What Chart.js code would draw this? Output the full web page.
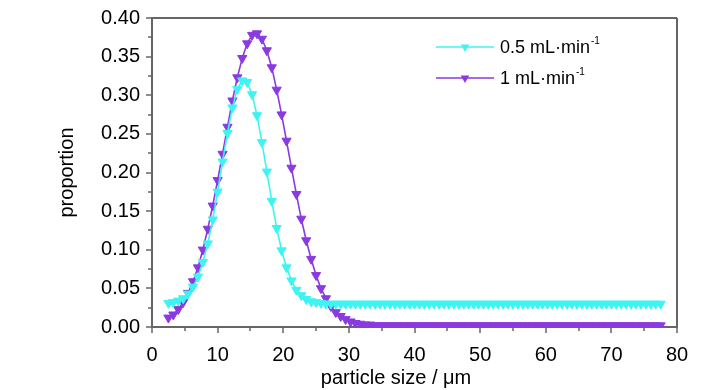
<!DOCTYPE html>
<html><head><meta charset="utf-8">
<script src="https://cdn.jsdelivr.net/npm/chart.js@4.4.1/dist/chart.umd.min.js"></script>
<style>html,body{margin:0;padding:0;background:#fff}#wrap{width:728px;height:390px}</style>
</head><body><div id="wrap"><canvas id="c" width="728" height="390"></canvas></div>
<script>
// particle size (µm)
const particleSize = [
 2.5,3.25,4,4.75,5.5,6.25,7,7.75,8.5,9.25,
 10,10.75,11.5,12.25,13,13.75,14.5,15.25,16,16.75,
 17.5,18.25,19,19.75,20.5,21.25,22,22.75,23.5,24.25,
 25,25.75,26.5,27.25,28,28.75,29.5,30.25,31,31.75,
 32.5,33.25,34,34.75,35.5,36.25,37,37.75,38.5,39.25,
 40,40.75,41.5,42.25,43,43.75,44.5,45.25,46,46.75,
 47.5,48.25,49,49.75,50.5,51.25,52,52.75,53.5,54.25,
 55,55.75,56.5,57.25,58,58.75,59.5,60.25,61,61.75,
 62.5,63.25,64,64.75,65.5,66.25,67,67.75,68.5,69.25,
 70,70.75,71.5,72.25,73,73.75,74.5,75.25,76,76.75,
 77.5
];
// 0.5 mL·min-1
const flow05 = [
 0.031,0.032,0.034,0.037,0.043,0.052,0.065,0.084,0.108,0.139,
 0.175,0.214,0.251,0.284,0.308,0.319,0.317,0.301,0.274,0.239,
 0.201,0.163,0.128,0.099,0.077,0.060,0.048,0.041,0.036,0.033,
 0.032,0.031,0.030,0.030,0.030,0.030,0.030,0.030,0.030,0.030,
 0.030,0.030,0.030,0.030,0.030,0.030,0.030,0.030,0.030,0.030,
 0.030,0.030,0.030,0.030,0.030,0.030,0.030,0.030,0.030,0.030,
 0.030,0.030,0.030,0.030,0.030,0.030,0.030,0.030,0.030,0.030,
 0.030,0.030,0.030,0.030,0.030,0.030,0.030,0.030,0.030,0.030,
 0.030,0.030,0.030,0.030,0.030,0.030,0.030,0.030,0.030,0.030,
 0.030,0.030,0.030,0.030,0.030,0.030,0.030,0.030,0.030,0.030,
 0.030
];
// 1 mL·min-1
const flow1 = [
 0.012,0.016,0.023,0.032,0.044,0.059,0.077,0.100,0.127,0.157,
 0.190,0.224,0.259,0.293,0.323,0.348,0.367,0.378,0.380,0.373,
 0.358,0.336,0.307,0.275,0.241,0.206,0.172,0.140,0.112,0.088,
 0.067,0.050,0.037,0.027,0.019,0.014,0.010,0.007,0.005,0.004,
 0.003,0.003,0.002,0.002,0.002,0.002,0.002,0.002,0.002,0.002,
 0.002,0.002,0.002,0.002,0.002,0.002,0.002,0.002,0.002,0.002,
 0.002,0.002,0.002,0.002,0.002,0.002,0.002,0.002,0.002,0.002,
 0.002,0.002,0.002,0.002,0.002,0.002,0.002,0.002,0.002,0.002,
 0.002,0.002,0.002,0.002,0.002,0.002,0.002,0.002,0.002,0.002,
 0.002,0.002,0.002,0.002,0.002,0.002,0.002,0.002,0.002,0.002,
 0.002
];
const seriesLabels = ['0.5 mL·min', '1 mL·min'];
const seriesSup = '-1';
const xMajorTicks = [0,10,20,30,40,50,60,70,80];
const xMinorTicks = [5,15,25,35,45,55,65,75];
const yMajorTicks = [0,0.05,0.10,0.15,0.20,0.25,0.30,0.35,0.40];
const yMinorTicks = [0.025,0.075,0.125,0.175,0.225,0.275,0.325,0.375];
const xTitle = 'particle size / μm';
const yTitle = 'proportion';

const FONT = '"Liberation Sans", Arial, sans-serif';
const CYAN = '#3ef4f2';
const PURPLE = '#8a3ae0';
const AXIS = '#666666';

const toPts = ys => particleSize.map((x, i) => ({x: x, y: ys[i]}));

const ticksPlugin = {
  id: 'ticksFrame',
  afterDraw(chart) {
    const ctx = chart.ctx, a = chart.chartArea;
    const xs = chart.scales.x, ys = chart.scales.y;
    ctx.save();
    ctx.strokeStyle = AXIS;
    ctx.lineWidth = 2;
    ctx.beginPath();
    ctx.moveTo(a.left, a.top); ctx.lineTo(a.right, a.top);
    ctx.moveTo(a.right, a.top); ctx.lineTo(a.right, a.bottom);
    ctx.stroke();
    ctx.lineWidth = 1.5;
    ctx.beginPath();
    xMajorTicks.forEach(v => { const p = Math.round(xs.getPixelForValue(v)); ctx.moveTo(p, a.bottom); ctx.lineTo(p, a.bottom + 6); });
    xMinorTicks.forEach(v => { const p = Math.round(xs.getPixelForValue(v)); ctx.moveTo(p, a.bottom); ctx.lineTo(p, a.bottom + 4); });
    yMajorTicks.forEach(v => { const p = Math.round(ys.getPixelForValue(v)); ctx.moveTo(a.left, p); ctx.lineTo(a.left - 6, p); });
    yMinorTicks.forEach(v => { const p = Math.round(ys.getPixelForValue(v)); ctx.moveTo(a.left, p); ctx.lineTo(a.left - 4, p); });
    ctx.stroke();
    // x axis title (slightly left of the plot centre, as in the original)
    ctx.fillStyle = '#000';
    ctx.font = '20px ' + FONT;
    ctx.textAlign = 'center'; ctx.textBaseline = 'middle';
    ctx.fillText(xTitle, 396, 378);
    ctx.restore();
  }
};

const legendPlugin = {
  id: 'inLegend',
  afterDraw(chart) {
    const ctx = chart.ctx;
    const items = [{c: CYAN, y: 47, t: seriesLabels[0]}, {c: PURPLE, y: 78, t: seriesLabels[1]}];
    ctx.save();
    items.forEach(it => {
      ctx.strokeStyle = it.c; ctx.lineWidth = 1.5;
      ctx.beginPath(); ctx.moveTo(436, it.y); ctx.lineTo(494, it.y); ctx.stroke();
      const r = 5, cx = 465, cy = it.y;
      ctx.fillStyle = it.c;
      ctx.beginPath();
      ctx.moveTo(cx, cy + r);
      ctx.lineTo(cx - r * 0.866, cy - r * 0.5);
      ctx.lineTo(cx + r * 0.866, cy - r * 0.5);
      ctx.closePath(); ctx.fill();
      ctx.fillStyle = '#000';
      ctx.font = '18px ' + FONT;
      ctx.textBaseline = 'middle'; ctx.textAlign = 'left';
      ctx.fillText(it.t, 500, it.y + 1);
      const w = ctx.measureText(it.t).width;
      ctx.font = '10px ' + FONT;
      ctx.fillText(seriesSup, 500 + w + 1, it.y - 6);
    });
    ctx.restore();
  }
};

const common = {
  showLine: true, borderWidth: 1.6, tension: 0,
  pointStyle: 'triangle', pointRotation: 180, pointRadius: 5.3, pointHoverRadius: 5.3,
  pointBorderWidth: 1, fill: false
};

new Chart(document.getElementById('c'), {
  type: 'scatter',
  data: {
    datasets: [
      Object.assign({label: seriesLabels[0], data: toPts(flow05), borderColor: CYAN, backgroundColor: CYAN, pointBackgroundColor: CYAN, pointBorderColor: CYAN}, common),
      Object.assign({label: seriesLabels[1], data: toPts(flow1), borderColor: PURPLE, backgroundColor: PURPLE, pointBackgroundColor: PURPLE, pointBorderColor: PURPLE}, common)
    ]
  },
  options: {
    responsive: false, animation: false, devicePixelRatio: 1,
    layout: {padding: {top: 18, right: 51, left: 0, bottom: 0}},
    plugins: {legend: {display: false}, tooltip: {enabled: false}},
    scales: {
      x: {
        type: 'linear', min: 0, max: 80,
        afterFit: s => { s.height = 63; },
        afterBuildTicks: s => { s.ticks = xMajorTicks.map(v => ({value: v})); },
        grid: {display: false},
        border: {display: true, color: AXIS, width: 2},
        ticks: {color: '#000', font: {family: FONT, size: 20}, padding: 8, maxRotation: 0, autoSkip: false},
        title: {display: false}
      },
      y: {
        type: 'linear', min: 0, max: 0.4,
        afterFit: s => { s.width = 152; },
        afterBuildTicks: s => { s.ticks = yMajorTicks.map(v => ({value: v})); },
        grid: {display: false},
        border: {display: true, color: AXIS, width: 2},
        ticks: {color: '#000', font: {family: FONT, size: 20}, padding: 4, callback: v => Number(v).toFixed(2), autoSkip: false},
        title: {display: true, text: yTitle, color: '#000', font: {family: FONT, size: 20}, padding: {top: 55, bottom: 0}}
      }
    }
  },
  plugins: [ticksPlugin, legendPlugin]
});
</script></body></html>
